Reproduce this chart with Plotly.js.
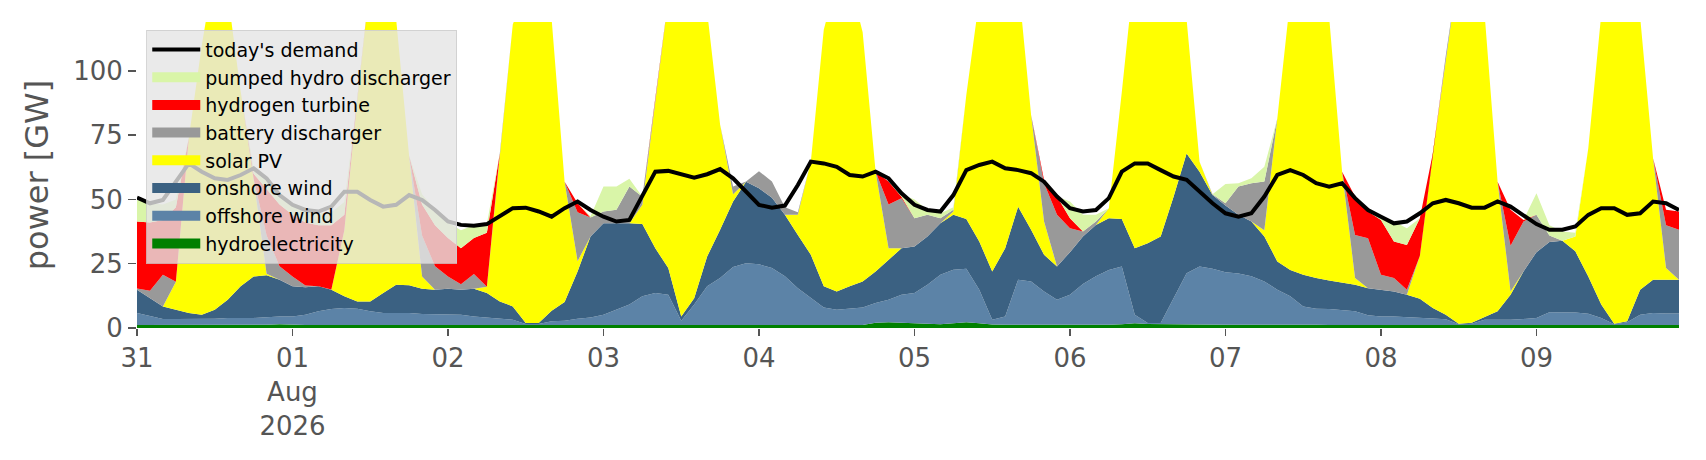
<!DOCTYPE html>
<html>
<head>
<meta charset="utf-8">
<script src="https://cdn.plot.ly/plotly-3.0.1.min.js"></script>
<style>
  html, body { margin: 0; padding: 0; background: #ffffff; }
  #chart { width: 1706px; height: 460px; }
</style>
</head>
<body>
<div id="chart"></div>
<script>
// 2-hourly snapshots starting 2026-07-31 00:00 (GW)
const startDate = '2026-07-31 00:00';
const stepHours = 2;

const hydroelectricity = [
  1.2,1.2,1.2,1.2,1.2,1.2,1.2,1.2,1.2,1.2,1.3,1.5,
  1.3,1.2,1.2,1.2,1.2,1.2,1.2,1.2,1.2,1.2,1.2,1.2,
  1.2,1.2,1.2,1.2,1.2,1.2,1.2,1.2,1.2,1.2,1.2,1.2,
  1.2,1.2,1.2,1.2,1.2,1.2,1.2,1.2,1.2,1.2,1.2,1.2,
  1.2,1.2,1.2,1.2,1.2,1.2,1.2,1.2,1.2,2.0,2.2,2.0,
  1.8,1.5,1.5,1.8,2.2,1.8,1.4,1.3,1.3,1.3,1.3,1.2,
  1.2,1.2,1.2,1.3,1.5,1.8,1.6,1.5,1.4,1.3,1.3,1.3,
  1.3,1.3,1.3,1.4,1.5,1.5,1.4,1.3,1.2,1.2,1.2,1.2,
  1.2,1.2,1.2,1.2,1.2,1.2,1.2,1.2,1.2,1.2,1.2,1.2,
  1.2,1.2,1.2,1.2,1.2,1.2,1.2,1.2,1.2,1.2,1.2,1.2
];

const offshoreWind = [
  4.6,3.3,2.3,2.3,2.3,2.3,2.4,2.7,2.7,2.7,2.9,3.0,
  3.2,4.0,5.3,6.2,6.6,6.3,5.3,4.6,4.6,4.6,4.2,4.2,
  4.2,4.0,3.3,2.9,2.4,2.0,0.4,0.4,1.4,1.6,2.4,2.9,
  4.0,5.9,7.9,11.1,12.4,11.7,1.6,7.9,15.0,18.2,22.5,24.0,
  23.6,22.1,18.9,14.3,10.4,6.8,5.9,6.3,6.8,7.7,8.8,10.9,
  11.8,15.3,19.2,20.9,20.8,13.1,1.8,3.2,17.5,16.8,12.9,9.8,
  11.7,15.9,18.9,21.3,22.4,3.4,0.3,0.4,10.2,20.0,22.6,21.7,
  20.4,19.9,18.8,16.7,13.4,10.8,7.0,6.2,6.2,5.8,5.3,3.8,
  3.3,3.3,3.1,2.7,2.5,2.2,0.3,0.5,2.0,2.0,2.0,2.3,
  2.7,4.9,4.9,4.8,4.3,2.7,0.3,1.0,4.0,4.6,4.4,4.4
];

const onshoreWind = [
  9.1,7.1,4.9,3.6,2.3,1.7,3.5,7.1,12.3,16.1,16.3,14.3,
  11.7,10.6,9.7,7.5,4.5,2.8,3.8,7.8,11.0,10.8,9.9,9.5,
  9.9,9.7,10.8,9.5,6.7,5.2,0.3,0.3,4.1,7.3,18.4,31.5,
  35.5,33.6,31.6,28.1,17.4,10.4,1.7,2.5,11.6,18.8,25.5,31.7,
  29.5,27.4,23.9,20.7,16.9,8.2,7.1,8.7,10.1,12.3,15.5,18.1,
  18.1,18.8,20.0,21.3,19.4,18.7,18.8,26.5,28.4,20.1,14.3,12.9,
  16.6,18.5,20.0,20.1,18.5,25.8,31.1,33.7,39.5,46.6,36.9,28.7,
  25.9,22.8,21.3,17.5,11.0,10.3,12.3,11.9,11.1,10.7,10.3,10.5,
  10.4,9.7,8.6,7.5,4.1,1.8,0.2,0.3,1.1,3.3,9.7,18.5,
  25.6,27.3,27.8,23.8,14.5,5.2,0.2,0.4,9.7,13.0,13.2,13.2
];

const solarPV = [
  0,0,0,10.9,68.2,104.8,132.9,119.0,75.8,37.8,0.6,0,
  0,0,0,0,25.7,78.4,124.7,126.4,103.2,50.4,4.7,0,
  0,0,0,2.4,57.7,109.6,130.1,133.1,113.3,46.8,4.0,0,
  0,0,0,7.5,57.7,104.7,135.5,126.4,95.2,40.8,2.8,0,
  0,0,0,7.8,36.2,99.8,120.8,118.8,96.9,38.8,4.5,0,
  0,0,0,1.3,48.2,94.4,118.0,109.0,87.8,44.6,12.9,0,
  0,0,0,3.9,49.4,109.0,112.0,104.4,83.9,52.1,3.9,0,
  0,0,0,2.4,55.6,105.4,119.3,115.6,102.5,43.1,2.6,0,
  0,0,0,16.6,60.1,100.8,138.3,133.0,117.7,50.4,1.3,0,
  0,0,0,5.8,49.9,112.9,138.3,132.4,106.1,47.2,4.5,0
];

const batteryDischarger = [
  0.5,2.9,12.3,0,0,0,0,0,0,0.2,15.0,5.2,
  3.8,0.7,0,0.1,0,0,0,0,0,0,16.0,9.1,
  4.7,2.1,5.7,0,0,0,0,0,0,0,19.0,7.4,
  4.6,5.3,14.3,3.1,0,0,0,0,0,0,3.0,0.1,
  6.7,6.3,3.0,1.0,0,0,0,0,0,0,17.0,19.5,
  11.0,8.4,2.0,0.7,0,0,0,0,0,0,14.9,20.1,
  9.3,1.9,1.3,0,0,0,0,0,0,0,0,0.3,
  0.9,11.0,14.9,19.0,0,0,0,0,0,0,16.8,19.4,
  5.8,5.2,2.0,0,0,0,0,0,0,0,17.8,19.4,
  14.5,2.6,0,0,0,0,0,0,0,0,16.7,19.4
];

const hydrogenTurbine = [
  26.0,26.5,21.3,29.0,0,0,0,0,0,2.0,18.0,24.0,
  24.0,24.5,23.8,25.0,6.0,0,0,0,0,0,12.0,16.0,
  15.0,14.0,14.0,21.0,0,0,0,0,0,0,3.5,0,
  0,0,0,0,0,0,0,0,0,0,0,0,
  0,0,0,0,0,0,0,0,0,0,9.0,0.5,
  0,0,0,0,0,0,0,0,0,0,1.3,7.1,
  3.9,0,0,0,0,0,0,0,0,0,0,0,
  0,0,0,0,0,0,0,0,0,0,14.9,10.4,
  21.3,14.2,17.4,14.7,0,0,0,0,0,0,14.0,0.6,
  0,0,0,0,0,0,0,0,0,0,6.0,7.1
];

const pumpedHydroDischarger = [
  8.4,7.5,6.0,3.0,0,0,0,0,0,2.0,3.0,3.0,
  3.5,4.5,4.5,5.0,5.0,0,0,0,0,0,4.0,6.0,
  6.0,7.0,5.0,3.5,0,0,0,0,0,0,0,0.5,
  9.7,9.0,3.0,0,0,0,0,0,0,0,0,0,
  0,0,0,0,0,0,0,0,0,0,0,1.0,
  7.3,2.0,1.8,1.0,0,0,0,0,0,0,0,0,
  6.5,6.5,2.6,0,0,0,0,0,0,0,0,0,
  7.5,1.3,1.9,5.7,0,0,0,0,0,0,0,0,
  0.7,7.8,6.5,0,0,0,0,0,0,0,0,0,
  8.4,4.0,3.6,1.4,0,0,0,0,0,0,0,0
];

const todaysDemand = [
  50.7,48.5,49.8,56.9,64.0,60.8,58.2,57.6,59.5,62.1,58.2,51.7,
  47.9,45.9,45.3,47.2,53.0,53.0,49.8,47.2,47.9,51.7,49.8,45.9,
  41.4,40.1,39.8,40.4,43.3,46.6,46.8,45.3,43.3,46.6,49.2,45.9,
  43.3,41.4,42.0,51.7,60.8,61.1,59.8,58.5,59.8,61.8,58.2,53.0,
  47.9,46.8,47.6,55.6,64.7,64.0,62.7,59.5,58.9,60.8,58.2,52.4,
  47.9,45.9,45.3,51.7,61.4,63.4,64.7,62.1,61.4,60.2,56.9,51.1,
  46.6,45.3,45.9,50.5,60.8,64.0,64.0,61.4,58.9,57.6,53.0,48.5,
  44.6,43.3,44.6,51.1,59.5,61.4,59.5,56.3,55.0,56.3,50.5,45.9,
  43.3,40.7,41.4,44.6,48.5,49.8,48.5,46.8,46.8,49.2,47.2,44.0,
  40.4,38.2,38.2,39.5,44.0,46.6,46.6,44.0,44.6,49.2,48.5,45.9
];

const dayTickDates = ['2026-07-31','2026-08-01','2026-08-02','2026-08-03','2026-08-04',
                      '2026-08-05','2026-08-06','2026-08-07','2026-08-08','2026-08-09'];
const dayTickLabels = ['31','01<br>Aug<br>2026','02','03','04','05','06','07','08','09'];

// ---- build the time axis ----
function pad(n){ return (n < 10 ? '0' : '') + n; }
function fmt(d){
  return d.getUTCFullYear() + '-' + pad(d.getUTCMonth()+1) + '-' + pad(d.getUTCDate()) +
         ' ' + pad(d.getUTCHours()) + ':' + pad(d.getUTCMinutes());
}
const t0 = Date.UTC(2026, 6, 31, 0, 0);
const times = todaysDemand.map((_, i) => fmt(new Date(t0 + i * stepHours * 3600e3)));
const tEnd = times[times.length - 1];

const FONT = 'DejaVu Sans, Verdana, sans-serif';

const series = [
  ['hydroelectricity', hydroelectricity, '#008000', 8],
  ['offshore wind', offshoreWind, '#5c83a7', 7],
  ['onshore wind', onshoreWind, '#3b6182', 6],
  ['solar PV', solarPV, '#ffff00', 5],
  ['battery discharger', batteryDischarger, '#999999', 4],
  ['hydrogen turbine', hydrogenTurbine, '#ff0000', 3],
  ['pumped hydro discharger', pumpedHydroDischarger, '#d9f5a8', 2]
];

const traces = [];
series.forEach(([name, y, color]) => {
  traces.push({
    type: 'scatter', mode: 'lines', name: name, x: times, y: y,
    stackgroup: 'gen', fillcolor: color,
    line: {width: 0, color: color},
    showlegend: false, hoverinfo: 'skip'
  });
});
traces.push({
  type: 'scatter', mode: 'lines', name: "today's demand", x: times, y: todaysDemand,
  line: {color: '#000000', width: 4}, legendrank: 1, hoverinfo: 'skip'
});
// legend-only entries with rectangular patches, like the original
series.forEach(([name, y, color, rank]) => {
  traces.push({
    type: 'scatter', mode: 'lines', name: name, x: [times[0]], y: [null],
    line: {width: 12, color: color}, legendrank: rank, hoverinfo: 'skip'
  });
});

const layout = {
  width: 1706, height: 460,
  margin: {l: 137, r: 27, t: 22, b: 132, pad: 0},
  paper_bgcolor: '#ffffff', plot_bgcolor: '#ffffff',
  font: {family: FONT, color: '#555555'},
  showlegend: true,
  legend: {
    x: 0.006, y: 0.975, xanchor: 'left', yanchor: 'top',
    bgcolor: 'rgba(229,229,229,0.8)', bordercolor: 'rgba(204,204,204,0.8)', borderwidth: 1,
    font: {family: FONT, size: 19, color: '#000000'},
    traceorder: 'normal', itemwidth: 48
  },
  xaxis: {
    type: 'date', range: [startDate, tEnd],
    tickmode: 'array', tickvals: dayTickDates, ticktext: dayTickLabels,
    ticks: 'outside', ticklen: 7, tickwidth: 1.5, tickcolor: '#555555',
    tickfont: {family: FONT, size: 26, color: '#555555'},
    showgrid: false, zeroline: false, showline: false
  },
  yaxis: {
    range: [0, 119], tickmode: 'array', tickvals: [0, 25, 50, 75, 100],
    ticks: 'outside', ticklen: 8, tickwidth: 1.5, tickcolor: '#555555',
    tickfont: {family: FONT, size: 26, color: '#555555'},
    showgrid: false, zeroline: false, showline: false,
    title: {text: 'power [GW]', font: {family: FONT, size: 32, color: '#555555'}, standoff: 14}
  }
};

Plotly.newPlot('chart', traces, layout, {displayModeBar: false, staticPlot: true});
</script>
</body>
</html>
